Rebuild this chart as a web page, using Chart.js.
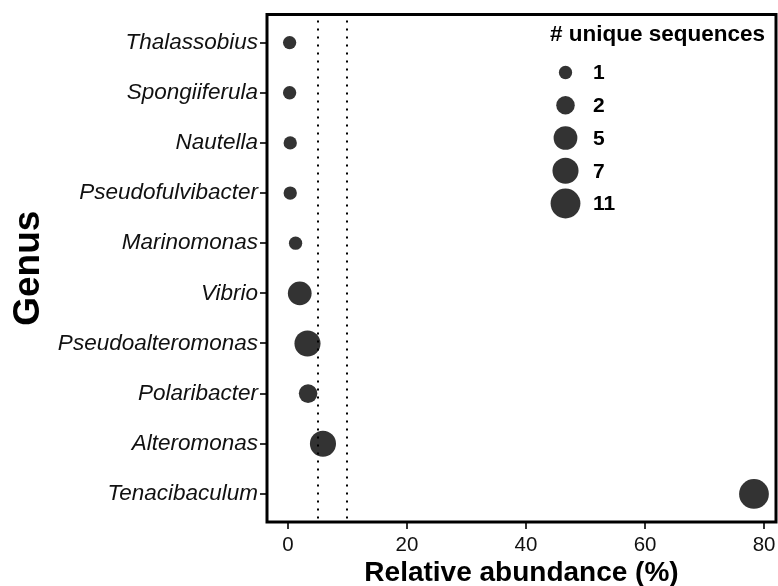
<!DOCTYPE html>
<html>
<head>
<meta charset="utf-8">
<script src="https://cdn.jsdelivr.net/npm/chart.js@4.4.1/dist/chart.umd.min.js"></script>
<style>
  html, body { margin: 0; padding: 0; background: #ffffff; }
  #wrap { width: 778px; height: 586px; }
</style>
</head>
<body>
<div id="wrap"><canvas id="c" width="778" height="586"></canvas></div>
<script>
// Genera, top to bottom
const genera = ['Thalassobius', 'Spongiiferula', 'Nautella', 'Pseudofulvibacter', 'Marinomonas',
                'Vibrio', 'Pseudoalteromonas', 'Polaribacter', 'Alteromonas', 'Tenacibaculum'];
// Relative abundance (%) of each genus
const abundance = [0.3, 0.3, 0.4, 0.4, 1.3, 2.0, 3.3, 3.4, 5.9, 78.3];
// Number of unique sequences per genus
const sequences = [1, 1, 1, 1, 1, 5, 7, 2, 7, 11];
// x-axis tick values
const xTickValues = [0, 20, 40, 60, 80];
// dotted reference lines (%)
const thresholds = [5, 10];
// size legend breaks
const legendBreaks = [1, 2, 5, 7, 11];

const FONT = '"Liberation Sans", Arial, Helvetica, sans-serif';
const INK = '#333333';

// area-style size mapping: radius grows with sqrt of the rescaled count
const seqMin = Math.min(...sequences), seqMax = Math.max(...sequences);
const R_MIN = 6.65, R_MAX = 14.9;
function radiusFor(n) {
  const t = (n - seqMin) / (seqMax - seqMin);
  return R_MIN + (R_MAX - R_MIN) * Math.sqrt(t);
}

const points = genera.map((g, i) => ({ x: abundance[i], y: i, r: radiusFor(sequences[i]) }));

// dotted vertical lines and the panel frame, drawn over the bubbles
const overlay = {
  id: 'overlay',
  afterDatasetsDraw(chart) {
    const { ctx, chartArea: a, scales: { x } } = chart;
    ctx.save();
    ctx.strokeStyle = '#000000';
    ctx.lineWidth = 2;
    ctx.setLineDash([2, 6]);
    ctx.lineCap = 'butt';
    thresholds.forEach(v => {
      const px = Math.round(x.getPixelForValue(v));
      ctx.beginPath();
      ctx.moveTo(px, a.top + 6);
      ctx.lineTo(px, a.bottom);
      ctx.stroke();
    });
    ctx.setLineDash([]);
    ctx.lineWidth = 3;
    ctx.strokeRect(a.left, a.top, a.right - a.left, a.bottom - a.top);
    ctx.restore();
  }
};

// size legend
const sizeLegend = {
  id: 'sizeLegend',
  afterDraw(chart) {
    const { ctx } = chart;
    ctx.save();
    ctx.fillStyle = '#000000';
    ctx.textBaseline = 'middle';
    ctx.textAlign = 'left';
    ctx.font = 'bold 22.5px ' + FONT;
    ctx.fillText('# unique sequences', 550, 35);
    const cx = 565.5, y0 = 72.5, step = 32.75;
    legendBreaks.forEach((n, k) => {
      const cy = y0 + k * step;
      ctx.beginPath();
      ctx.fillStyle = INK;
      ctx.arc(cx, cy, radiusFor(n), 0, Math.PI * 2);
      ctx.fill();
      ctx.fillStyle = '#000000';
      ctx.font = 'bold 21px ' + FONT;
      ctx.fillText(String(n), 593, cy + 1);
    });
    ctx.restore();
  }
};

new Chart(document.getElementById('c'), {
  type: 'bubble',
  data: {
    datasets: [{
      data: points,
      backgroundColor: INK,
      borderColor: INK,
      borderWidth: 0,
      hoverBorderWidth: 0
    }]
  },
  options: {
    responsive: false,
    animation: false,
    events: [],
    layout: { autoPadding: false, padding: { top: 14.5, right: 2, left: 0, bottom: 0 } },
    plugins: { legend: { display: false }, tooltip: { enabled: false } },
    scales: {
      x: {
        type: 'linear',
        min: -3.5,
        max: 82,
        afterBuildTicks(s) { s.ticks = xTickValues.map(v => ({ value: v })); },
        afterFit(s) { s.height = 64; s.paddingLeft = 0; s.paddingRight = 0; },
        border: { display: false },
        grid: { drawOnChartArea: false, drawTicks: true, tickLength: 7, color: INK, lineWidth: 2 },
        ticks: { color: '#111111', font: { family: FONT, size: 20.5 }, padding: 4, maxRotation: 0 },
        title: {
          display: true,
          text: 'Relative abundance (%)',
          color: '#000000',
          font: { family: FONT, size: 28, weight: 'bold', lineHeight: 0.9 },
          padding: { top: 0, bottom: 0 }
        }
      },
      y: {
        type: 'linear',
        reverse: true,
        min: -0.56,
        max: 9.56,
        afterBuildTicks(s) { s.ticks = genera.map((g, i) => ({ value: i })); },
        afterFit(s) { s.width = 267; s.paddingTop = 0; s.paddingBottom = 0; },
        border: { display: false },
        grid: { drawOnChartArea: false, drawTicks: true, tickLength: 7, color: INK, lineWidth: 2 },
        ticks: {
          color: '#111111',
          font: { family: FONT, size: 22.5, style: 'italic' },
          padding: 2,
          callback: v => genera[v]
        },
        title: {
          display: true,
          text: 'Genus',
          color: '#000000',
          font: { family: FONT, size: 37, weight: 'bold', lineHeight: 1 },
          padding: { top: 10, bottom: 0 }
        }
      }
    }
  },
  plugins: [overlay, sizeLegend]
});
</script>
</body>
</html>
